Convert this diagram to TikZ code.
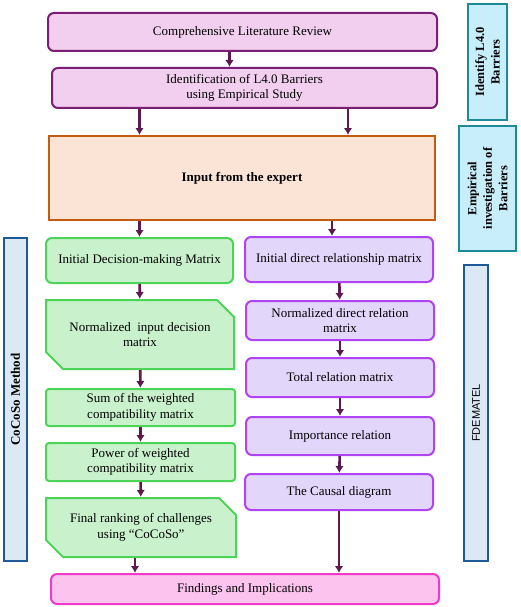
\documentclass[tikz,border=0pt]{standalone}
\usepackage{fontspec}
\setmainfont{Liberation Serif}
\setsansfont{Liberation Sans}
\usetikzlibrary{arrows.meta, shapes.misc}
\tikzset{>={Latex[length=7pt,width=8.5pt]}}

\definecolor{pinkfill}{HTML}{F2CFEE}
\definecolor{pinkline}{HTML}{7B1F74}
\definecolor{expfill}{HTML}{FBE3D6}
\definecolor{expline}{HTML}{C55A11}
\definecolor{grnfill}{HTML}{C9F1CC}
\definecolor{grnline}{HTML}{4CD458}
\definecolor{lilfill}{HTML}{E3D6FB}
\definecolor{lilline}{HTML}{B043F2}
\definecolor{findfill}{HTML}{FBC3EE}
\definecolor{findline}{HTML}{EE3CC8}
\definecolor{tealfill}{HTML}{C8EEFB}
\definecolor{tealline}{HTML}{1E8A98}
\definecolor{methfill}{HTML}{DCE9F5}
\definecolor{methline}{HTML}{1F5A96}
\definecolor{arrowcol}{HTML}{5B1A50}

\tikzset{
  box/.style={draw, line width=2pt, rounded corners=6pt, align=center,
              font=\fontsize{13}{15.5}\selectfont, inner sep=2pt},
  pinkbox/.style={box, draw=pinkline, fill=pinkfill},
  expbox/.style={box, rounded corners=0pt, draw=expline, fill=expfill,
                 font=\fontsize{13}{15.5}\selectfont\bfseries},
  grnbox/.style={box, draw=grnline, fill=grnfill},
  grnsnip/.style={box, rounded corners=0pt, draw=grnline, fill=grnfill,
                  chamfered rectangle, chamfered rectangle xsep=8.5pt,
                  chamfered rectangle ysep=8.5pt,
                  chamfered rectangle corners={north east, south west}},
  lilbox/.style={box, draw=lilline, fill=lilfill},
  findbox/.style={box, draw=findline, fill=findfill},
  sidebox/.style={box, rounded corners=0pt, rotate=90, draw=tealline, fill=tealfill,
                  line width=2.4pt, font=\fontsize{12.5}{15.5}\selectfont\bfseries},
  methbox/.style={box, rounded corners=0pt, rotate=90, draw=methline, fill=methfill,
                  line width=2pt},
  flow/.style={->, draw=arrowcol, line width=2.6pt}
}

\begin{document}
\begin{tikzpicture}[x=1pt, y=-1pt]
  \useasboundingbox (0,0) rectangle (520,607);

  % top of the flow
  \node[pinkbox, minimum width=389pt, minimum height=38pt] (lit) at (242.5,32) {Comprehensive Literature Review};
  \node[pinkbox, minimum width=385pt, minimum height=40pt] (idb) at (244.5,88) {Identification of L4.0 Barriers\\using Empirical Study};
  \node[expbox, minimum width=386pt, minimum height=84pt] (input) at (242,178) {Input from the expert};

  % side labels
  \node[sidebox, minimum width=116pt, minimum height=39pt] (idside) at (487.5,62) {Identify L4.0\\Barriers};
  \node[sidebox, minimum width=125pt, minimum height=57pt] (empside) at (487.5,188.5) {Empirical\\investigation of\\Barriers};
  \node[methbox, minimum width=323pt, minimum height=23pt, font=\fontsize{13}{15}\selectfont\bfseries] (cocoso) at (15.5,399.5) {CoCoSo Method};
  \node[methbox, minimum width=296pt, minimum height=24pt, font=\fontsize{11}{13}\sffamily] (fdem) at (476,413) {FDEMATEL};

  % CoCoSo column
  \node[grnbox, minimum width=187pt, minimum height=45pt] (dec1) at (139.5,260.5) {Initial Decision-making Matrix};
  \node[grnsnip, minimum width=188pt, minimum height=69pt] (dec2) at (140,334.5) {Normalized\ \ input decision\\matrix};
  \node[grnbox, rounded corners=3pt, minimum width=189pt, minimum height=37pt] (dec3) at (140.5,407.5) {Sum of the weighted\\compatibility matrix};
  \node[grnbox, rounded corners=3pt, minimum width=189pt, minimum height=38pt] (dec4) at (140.5,462) {Power of weighted\\compatibility matrix};
  \node[grnsnip, minimum width=190pt, minimum height=59pt] (dec5) at (141,527.5) {Final ranking of challenges\\using “CoCoSo”};

  % FDEMATEL column
  \node[lilbox, minimum width=188pt, minimum height=45pt] (rel1) at (339,259.5) {Initial direct relationship matrix};
  \node[lilbox, minimum width=188pt, minimum height=39pt] (rel2) at (340,320.5) {Normalized direct relation\\matrix};
  \node[lilbox, minimum width=188pt, minimum height=39pt] (rel3) at (340,377.5) {Total relation matrix};
  \node[lilbox, minimum width=188pt, minimum height=38pt] (rel4) at (340,436) {Importance relation};
  \node[lilbox, minimum width=188pt, minimum height=36pt] (rel5) at (339,492) {The Causal diagram};

  \node[findbox, minimum width=388pt, minimum height=30pt] (find) at (245,589) {Findings and Implications};

  % arrows
  \draw [flow] ([xshift=-13pt]lit.south) -- ([xshift=-13pt]lit.south |- idb.north);
  \draw [flow] (idb.south -| dec1.north) -- (input.north -| dec1.north);
  \draw [flow] ([xshift=9pt]idb.south -| rel1.north) -- ([xshift=9pt]input.north -| rel1.north);
  \draw [flow] (input.south -| dec1.north) -- (dec1.north);
  \draw [flow] ([xshift=-7pt]input.south -| rel1.north) -- ([xshift=-7pt]rel1.north);
  \draw [flow] (dec1) -- (dec2);
  \draw [flow] (dec2) -- (dec3);
  \draw [flow] (dec3) -- (dec4);
  \draw [flow] (dec4) -- (dec5);
  \draw [flow] (rel1) -- (rel2);
  \draw [flow] (rel2) -- (rel3);
  \draw [flow] (rel3) -- (rel4);
  \draw [flow] (rel4) -- (rel5);
  \draw [flow] ([xshift=-6pt]dec5.south) -- ([xshift=-6pt]dec5.south |- find.north);
  \draw [flow] (rel5.south) -- (rel5.south |- find.north);
\end{tikzpicture}
\end{document}
